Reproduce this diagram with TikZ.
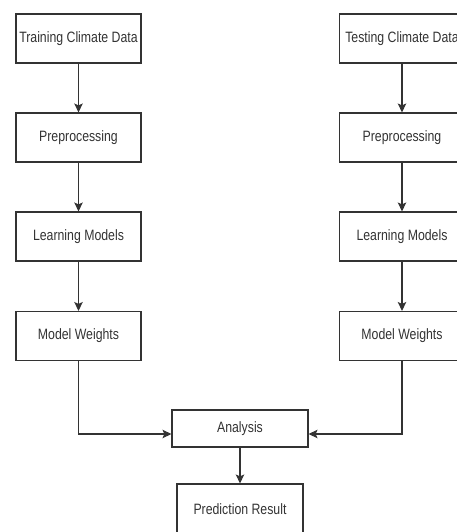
\documentclass[tikz,border=0pt]{standalone}
\usepackage{fontspec}
\setmainfont{Liberation Sans}[FakeStretch=0.82]
\usepackage{tikz}
\usetikzlibrary{arrows.meta,positioning,calc}
\definecolor{inkgray}{HTML}{333333}

\begin{document}
\begin{tikzpicture}[
  x=1pt, y=-1pt,
  flow/.style={-{Stealth[length=9pt,width=8.5pt,inset=2pt]}, line width=1.1pt, inkgray},
  stage/.style={draw=inkgray, line width=1.1pt, minimum width=125pt, minimum height=49pt,
                inner sep=0pt, text=inkgray, font=\fontsize{15}{18}\selectfont},
  every node/.style={font=\fontsize{15}{18}\selectfont}]

\useasboundingbox (0,0) rectangle (457,532);

% ---- the training branch ------------------------------------------------
\node[stage] (trData) at (78.5, 38.5) {Training Climate Data};
\node[stage] (trPre)  at (78.5,137.5) {Preprocessing};
\node[stage] (trLrn)  at (78.5,236.5) {Learning Models};
\node[stage] (trWgt)  at (78.5,336)   {Model Weights};

% ---- the testing branch -------------------------------------------------
\node[stage] (teData) at (402, 38.5) {Testing Climate Data};
\node[stage] (tePre)  at (402,137.5) {Preprocessing};
\node[stage] (teLrn)  at (402,236.5) {Learning Models};
\node[stage] (teWgt)  at (402,336)   {Model Weights};

% ---- the merge ----------------------------------------------------------
\node[stage, minimum width=136pt, minimum height=37pt] (anal) at (240,428.5) {Analysis};
\node[stage, minimum width=126pt, minimum height=50pt] (pred) at (240,509)   {Prediction Result};
\coordinate (analL) at ($(anal.west)+(0,5.5)$);
\coordinate (analR) at ($(anal.east)+(0,5.5)$);

% ---- the arrows ---------------------------------------------------------
\draw[flow] (trData) -- (trPre);
\draw[flow] (trPre)  -- (trLrn);
\draw[flow] (trLrn)  -- (trWgt);
\draw[flow] (teData) -- (tePre);
\draw[flow] (tePre)  -- (teLrn);
\draw[flow] (teLrn)  -- (teWgt);
\draw[flow] (trWgt.south) |- (analL);
\draw[flow] (teWgt.south) |- (analR);
\draw[flow] (anal) -- (pred);

\end{tikzpicture}
\end{document}
